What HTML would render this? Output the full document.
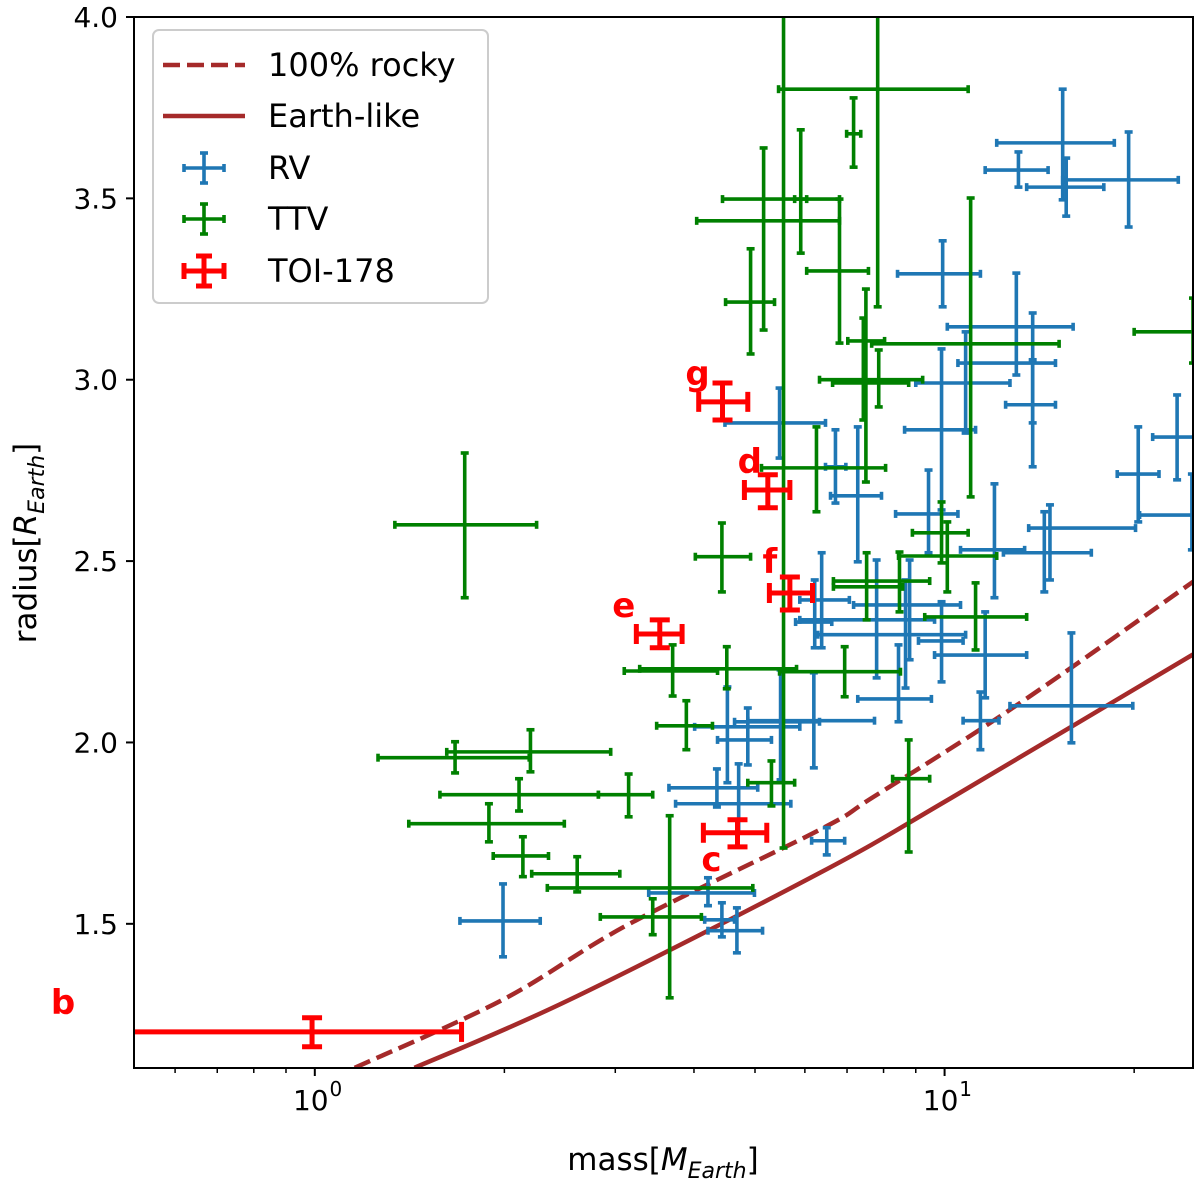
<!DOCTYPE html>
<html><head><meta charset="utf-8"><style>
html,body{margin:0;padding:0;background:#fff;}
svg{display:block;font-family:"DejaVu Sans","Liberation Sans",sans-serif;}
</style></head><body>
<svg id="chart" width="1200" height="1186" viewBox="0 0 1200 1186" xmlns="http://www.w3.org/2000/svg">
<defs><clipPath id="plotclip"><rect x="134" y="17" width="1059" height="1051"/></clipPath></defs>
<rect x="0" y="0" width="1200" height="1186" fill="#fff"/>
<g id="curves" clip-path="url(#plotclip)"></g>
<g id="points" clip-path="url(#plotclip)"></g>
<g id="labels"></g>
<rect x="134" y="17" width="1059" height="1051" fill="none" stroke="#000" stroke-width="2"/>
<g id="axes"></g>
<text x="663" y="1170" font-size="31" text-anchor="middle">mass[<tspan font-style="italic">M</tspan><tspan font-size="22" font-style="italic" dy="8">Earth</tspan><tspan dy="-8">]</tspan></text>
<text transform="translate(36,543) rotate(-90)" font-size="31" text-anchor="middle">radius[<tspan font-style="italic">R</tspan><tspan font-size="22" font-style="italic" dy="8">Earth</tspan><tspan dy="-8">]</tspan></text>
<g id="legend"></g>
</svg>
<script>
// ---- data ----
const rvMass   = [15.4,13.1,15.6,19.6,9.93,13.0,13.8,13.8,9.89,10.8,23.4,20.3,24.7,14.7,14.4,12.0,7.28,5.47,6.71,9.43,6.38,8.80,7.80,6.22,8.67,9.89,11.6,8.45,11.4,15.9,6.20,5.49,4.87,4.52,4.35,4.71,4.21,4.43,4.68,1.99,6.50];
const rvMassLo = [12.1,11.6,13.5,15.4,8.42,10.1,10.5,12.5,8.64,9.0,21.4,18.8,20.4,13.6,12.4,10.6,6.59,4.48,6.47,8.36,5.89,7.17,5.89,5.80,6.29,9.09,9.64,7.28,10.7,12.7,4.87,4.64,4.36,4.01,3.65,3.74,3.39,4.16,4.21,1.70,6.15];
const rvMassHi = [18.6,14.6,17.9,23.5,11.4,16.0,15.0,15.0,11.2,12.7,25.0,21.9,29.0,20.1,17.1,13.4,7.94,6.47,6.97,10.5,7.06,10.6,9.64,6.62,10.8,10.7,13.5,9.53,12.2,19.9,7.74,6.33,5.31,5.89,5.05,5.70,4.99,4.64,5.14,2.28,6.94];
const rvRad    = [3.653,3.578,3.531,3.551,3.292,3.146,3.046,2.931,2.862,2.991,2.842,2.740,2.627,2.591,2.523,2.531,2.680,2.881,2.760,2.630,2.393,2.379,2.338,2.332,2.297,2.280,2.241,2.120,2.060,2.101,2.060,2.057,2.007,2.043,1.875,1.831,1.585,1.511,1.481,1.508,1.729];
const rvRadLo  = [3.496,3.531,3.451,3.421,3.201,3.013,2.881,2.760,2.641,2.853,2.724,2.608,2.531,2.448,2.415,2.399,2.498,2.784,2.660,2.523,2.261,2.228,2.178,2.261,2.150,2.167,2.123,2.057,1.980,1.999,1.930,1.897,1.938,1.889,1.822,1.751,1.550,1.464,1.420,1.409,1.690];
const rvRadHi  = [3.801,3.628,3.611,3.683,3.383,3.294,3.184,3.055,3.085,3.132,2.958,2.870,2.740,2.655,2.636,2.713,2.870,2.977,2.862,2.751,2.523,2.503,2.503,2.448,2.448,2.388,2.360,2.269,2.139,2.302,2.192,2.200,2.095,2.153,1.927,1.941,1.627,1.558,1.544,1.610,1.765];

const ttvMass   = [5.55,5.16,5.91,7.83,7.17,6.81,4.92,7.43,7.86,7.50,11.0,24.8,6.26,9.89,10.1,8.48,7.52,11.2,4.43,1.73,6.94,3.70,4.51,3.89,2.20,1.67,2.11,3.15,1.89,2.14,2.61,3.66,3.44,5.31,8.77];
const ttvMassLo = [4.44,4.04,5.78,5.45,6.99,6.04,4.49,7.02,6.33,6.64,7.66,20.0,5.12,8.89,8.45,6.66,6.66,9.30,4.02,1.34,5.47,3.10,3.28,3.49,1.62,1.26,1.58,2.82,1.41,1.92,2.21,2.34,2.84,4.87,8.27];
const ttvMassHi = [6.81,6.81,6.04,10.9,7.36,7.57,5.37,8.03,9.23,8.77,15.2,30.0,8.06,10.9,12.1,9.47,8.58,13.5,4.92,2.25,8.51,4.36,5.82,4.28,2.95,2.19,2.82,3.44,2.49,2.35,3.05,4.96,4.11,5.78,9.47];
const ttvRad    = [3.498,3.438,3.498,3.801,3.678,3.300,3.214,3.107,3.000,2.991,3.099,3.132,2.757,2.578,2.514,2.445,2.429,2.346,2.512,2.600,2.195,2.197,2.203,2.046,1.974,1.958,1.856,1.856,1.776,1.687,1.638,1.599,1.519,1.889,1.900];
const ttvRadLo  = [1.709,3.137,3.349,3.201,3.586,3.101,3.071,2.889,2.925,2.718,2.677,3.046,2.636,2.495,2.415,2.360,2.338,2.255,2.415,2.399,2.126,2.128,2.148,1.980,1.919,1.916,1.811,1.795,1.726,1.630,1.588,1.296,1.470,1.825,1.698];
const ttvRadHi  = [4.10,3.639,3.689,4.074,3.777,3.498,3.361,3.170,3.082,3.250,3.501,3.225,2.870,2.663,2.608,2.525,2.523,2.440,2.605,2.798,2.264,2.269,2.264,2.115,2.035,2.002,1.900,1.913,1.831,1.740,1.685,1.798,1.569,1.949,2.007];

const toiNames  = ["b","c","d","e","f","g"];
const toiMass   = [0.99,4.69,5.24,3.53,5.68,4.44];
const toiMassLo = [0.30,4.14,4.81,3.24,5.27,4.07];
const toiMassHi = [1.71,5.22,5.68,3.83,6.17,4.87];
const toiRad    = [1.202,1.751,2.696,2.299,2.412,2.939];
const toiRadLo  = [1.161,1.712,2.647,2.261,2.365,2.889];
const toiRadHi  = [1.241,1.787,2.738,2.338,2.456,2.991];

const rockyMass = [1.157,1.99,3.16,6.33,7.71,12.9,24.8,26.0];
const rockyRad  = [1.103,1.291,1.50,1.759,1.85,2.098,2.443,2.47];
const earthMass = [1.44,2.54,6.33,10.24,24.0,26.0];
const earthRad  = [1.103,1.291,1.64,1.847,2.228,2.26];

const yTicks = [1.5,2.0,2.5,3.0,3.5,4.0];
const yTickLabels = ["1.5","2.0","2.5","3.0","3.5","4.0"];
const xMajor = [1,10];
const xMajorExp = ["0","1"];
const xMinor = [0.6,0.7,0.8,0.9,2,3,4,5,6,7,8,9,20];

// ---- scales ----
const X0=134, X1=1193, Y0=17, Y1=1068;
const logMin=Math.log10(0.5163), logMax=Math.log10(24.8);
function xs(m){return X0+(Math.log10(m)-logMin)/(logMax-logMin)*(X1-X0);}
const rMin=1.1025, rMax=4.0;
function ys(r){return Y1-(r-rMin)/(rMax-rMin)*(Y1-Y0);}

const NS="http://www.w3.org/2000/svg";
function mk(tag,attrs,parent){const e=document.createElementNS(NS,tag);for(const k in attrs)e.setAttribute(k,attrs[k]);parent.appendChild(e);return e;}

// curves (smooth Catmull-Rom through read points)
const cg=document.getElementById('curves');
function smoothPath(ms,rs){
  const p=ms.map((m,i)=>[xs(m),ys(rs[i])]);
  let d='M'+p[0][0].toFixed(1)+','+p[0][1].toFixed(1);
  for(let i=0;i<p.length-1;i++){
    const p0=p[i-1]||p[i],p1=p[i],p2=p[i+1],p3=p[i+2]||p[i+1];
    const c1=[p1[0]+(p2[0]-p0[0])/6,p1[1]+(p2[1]-p0[1])/6];
    const c2=[p2[0]-(p3[0]-p1[0])/6,p2[1]-(p3[1]-p1[1])/6];
    d+=' C'+c1[0].toFixed(1)+','+c1[1].toFixed(1)+' '+c2[0].toFixed(1)+','+c2[1].toFixed(1)+' '+p2[0].toFixed(1)+','+p2[1].toFixed(1);
  }
  return d;
}
const rocky=mk('path',{d:smoothPath(rockyMass,rockyRad),fill:'none',stroke:'#a52a2a','stroke-width':4.5,'stroke-dasharray':'17,7'},cg);


const earth=mk('path',{d:smoothPath(earthMass,earthRad),fill:'none',stroke:'#a52a2a','stroke-width':4.5},cg);



// error bars
const pg=document.getElementById('points');
function errbar(m,ml,mh,r,rl,rh,color,w,cap,name){
  const g=mk('g',{stroke:color,'stroke-width':w,fill:'none'},pg);
  
  
  const cx=xs(m),cy=ys(r),xl=xs(ml),xr=xs(mh),yt=ys(rh),yb=ys(rl);
  mk('line',{x1:xl,y1:cy,x2:xr,y2:cy},g);
  mk('line',{x1:cx,y1:yt,x2:cx,y2:yb},g);
  mk('line',{x1:xl,y1:cy-cap,x2:xl,y2:cy+cap},g);
  mk('line',{x1:xr,y1:cy-cap,x2:xr,y2:cy+cap},g);
  mk('line',{x1:cx-cap,y1:yt,x2:cx+cap,y2:yt},g);
  mk('line',{x1:cx-cap,y1:yb,x2:cx+cap,y2:yb},g);
}
for(let i=0;i<rvMass.length;i++) errbar(rvMass[i],rvMassLo[i],rvMassHi[i],rvRad[i],rvRadLo[i],rvRadHi[i],'#1f77b4',3.6,4,'rv-point');
for(let i=0;i<ttvMass.length;i++) errbar(ttvMass[i],ttvMassLo[i],ttvMassHi[i],ttvRad[i],ttvRadLo[i],ttvRadHi[i],'#008000',3.6,4,'ttv-point');
for(let i=0;i<toiMass.length;i++) errbar(toiMass[i],toiMassLo[i],toiMassHi[i],toiRad[i],toiRadLo[i],toiRadHi[i],'#ff0000',5,10,'toi178-'+toiNames[i]);

// labels for TOI-178 planets
const lg=document.getElementById('labels');
const labOff={b:[-249,-18],c:[-26,38],d:[-18,-17],e:[-36,-17],f:[-20,-20],g:[-25,-17]};
toiNames.forEach((n,i)=>{
  const o=labOff[n];
  const t=mk('text',{x:xs(toiMass[i])+o[0],y:ys(toiRad[i])+o[1],fill:'#ff0000','font-size':34,'font-weight':'bold','text-anchor':'middle'},lg);
  t.textContent=n;
  
  
});

// axes
const ag=document.getElementById('axes');
yTicks.forEach((v,i)=>{
  const y=ys(v);
  const l=mk('line',{x1:X0-8,y1:y,x2:X0,y2:y,stroke:'#000','stroke-width':2},ag);
  
  
  const t=mk('text',{x:X0-16,y:y+10,'font-size':28,'text-anchor':'end'},ag);
  t.textContent=yTickLabels[i];
  
  
});
xMajor.forEach((v,i)=>{
  const x=xs(v);
  const l=mk('line',{x1:x,y1:Y1,x2:x,y2:Y1+8,stroke:'#000','stroke-width':2},ag);
  
  
  const t=mk('text',{x:x-4,y:Y1+42,'font-size':28,'text-anchor':'middle'},ag);
  t.textContent='10';
  
  
  const s=mk('text',{x:x+21,y:Y1+28,'font-size':20,'text-anchor':'middle'},ag);
  s.textContent=xMajorExp[i];
  
  
});
xMinor.forEach(v=>{
  const x=xs(v);
  const l=mk('line',{x1:x,y1:Y1,x2:x,y2:Y1+5,stroke:'#000','stroke-width':1.5},ag);
  
  
});

// legend
const lgd=document.getElementById('legend');
const box=mk('rect',{x:153,y:30,width:335,height:273,rx:6,fill:'#fff','fill-opacity':0.8,stroke:'#ccc','stroke-width':2},lgd);


const legNames=["100% rocky","Earth-like","RV","TTV","TOI-178"];
const legRows=[65,116,168,219,271];
legNames.forEach((n,i)=>{
  const y=legRows[i];
  const g=mk('g',{},lgd);
  
  
  if(i===0) mk('line',{x1:163,y1:y,x2:245,y2:y,stroke:'#a52a2a','stroke-width':4.5,'stroke-dasharray':'17,7'},g);
  else if(i===1) mk('line',{x1:163,y1:y,x2:245,y2:y,stroke:'#a52a2a','stroke-width':4.5},g);
  else {
    const c=['#1f77b4','#008000','#ff0000'][i-2];
    const w=i===4?5:3.6, cap=i===4?8:4;
    mk('line',{x1:184,y1:y,x2:224,y2:y,stroke:c,'stroke-width':w},g);
    mk('line',{x1:204,y1:y-15,x2:204,y2:y+15,stroke:c,'stroke-width':w},g);
    mk('line',{x1:184,y1:y-cap,x2:184,y2:y+cap,stroke:c,'stroke-width':w},g);
    mk('line',{x1:224,y1:y-cap,x2:224,y2:y+cap,stroke:c,'stroke-width':w},g);
    mk('line',{x1:204-cap,y1:y-15,x2:204+cap,y2:y-15,stroke:c,'stroke-width':w},g);
    mk('line',{x1:204-cap,y1:y+15,x2:204+cap,y2:y+15,stroke:c,'stroke-width':w},g);
  }
  const t=mk('text',{x:268,y:y+11,'font-size':32},g);
  t.textContent=n;
});
</script>
</body></html>
